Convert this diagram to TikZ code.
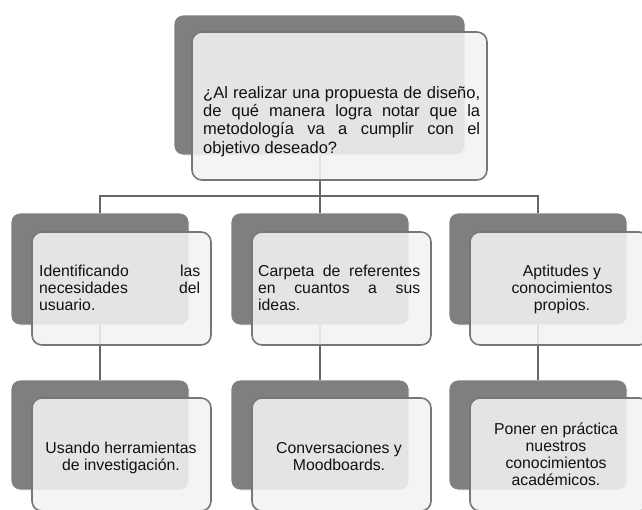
\documentclass[tikz,border=0pt]{standalone}
\usepackage{fontspec}
\setmainfont{Liberation Sans}
\definecolor{backgray}{HTML}{7F7F7F}
\definecolor{frontfill}{HTML}{F3F3F3}
\definecolor{edgegray}{HTML}{777777}
\definecolor{linkgray}{HTML}{666666}
\definecolor{txtcol}{HTML}{111111}
\begin{document}
\begin{tikzpicture}[x=1pt,y=-1pt,
  backbox/.style={draw=white, line width=0.8pt, fill=backgray, rounded corners=9pt,
    minimum width=178pt, minimum height=112pt, inner sep=0pt, outer sep=0pt},
  frontbox/.style={draw=edgegray, line width=1.6pt, fill=frontfill, fill opacity=0.88,
    rounded corners=10pt, minimum width=179pt, minimum height=113pt, inner sep=0pt, outer sep=0pt},
  link/.style={draw=linkgray, line width=2pt},
  txt/.style={inner sep=0pt, text=txtcol, font=\fontsize{15.8}{16.8}\selectfont},
  toptxt/.style={inner sep=0pt, text=txtcol, font=\fontsize{16.5}{18.3}\selectfont}
]
\useasboundingbox (0,0) rectangle (642,509);
% back boxes
\node[backbox, minimum width=291pt, minimum height=140pt] (t0b) at (319.5,85) {};
\node[backbox] (l1b) at (100,269) {};
\node[backbox] (m1b) at (320,269) {};
\node[backbox] (r1b) at (538,269) {};
\node[backbox, minimum height=110pt] (l2b) at (100,435) {};
\node[backbox, minimum height=110pt] (m2b) at (320,435) {};
\node[backbox, minimum height=110pt] (r2b) at (538,435) {};
% connectors
\coordinate (hub) at (320,196);
\draw[link] (t0b.south) -- (t0b.south |- hub);
\draw[link] (l1b.north) |- (hub) -| (r1b.north);
\draw[link] (m1b.north) -- (m1b.north |- hub);
\draw[link] (l1b.south) -- (l2b.north);
\draw[link] (m1b.south) -- (m2b.north);
\draw[link] (r1b.south) -- (r2b.north);
% front boxes
\node[frontbox, minimum width=295pt, minimum height=148pt] (t0f) at (339.5,106) {};
\node[frontbox] (l1f) at (121.5,288.5) {};
\node[frontbox] (m1f) at (341.5,288.5) {};
\node[frontbox] (r1f) at (559.5,288.5) {};
\node[frontbox] (l2f) at (121.5,454.5) {};
\node[frontbox] (m2f) at (341.5,454.5) {};
\node[frontbox] (r2f) at (559.5,454.5) {};
% texts
\node[toptxt, anchor=north west, align=left] (t0t) at (203,86)
 {\makebox[277pt][s]{¿Al realizar una propuesta de diseño,}\\
  \makebox[277pt][s]{de qué manera logra notar que la}\\
  \makebox[277pt][s]{metodología va a cumplir con el}\\
  objetivo deseado?};
\node[txt, anchor=north west, align=left] (l1t) at (39,265)
 {\makebox[161pt][s]{Identificando las}\\
  \makebox[161pt][s]{necesidades del}\\
  usuario.};
\node[txt, anchor=north west, align=left] (m1t) at (258,265)
 {\makebox[162pt][s]{Carpeta de referentes}\\
  \makebox[162pt][s]{en cuantos a sus}\\
  ideas.};
\node[txt, anchor=north, align=center] (r1t) at (562,265)
 {Aptitudes y\\ conocimientos\\ propios.};
\node[txt, anchor=north, align=center] (l2t) at (121,442)
 {Usando herramientas\\ de investigación.};
\node[txt, anchor=north, align=center] (m2t) at (339,442)
 {Conversaciones y\\ Moodboards.};
\node[txt, anchor=north, align=center] (r2t) at (556,423)
 {Poner en práctica\\ nuestros\\ conocimientos\\ académicos.};
\end{tikzpicture}
\end{document}
